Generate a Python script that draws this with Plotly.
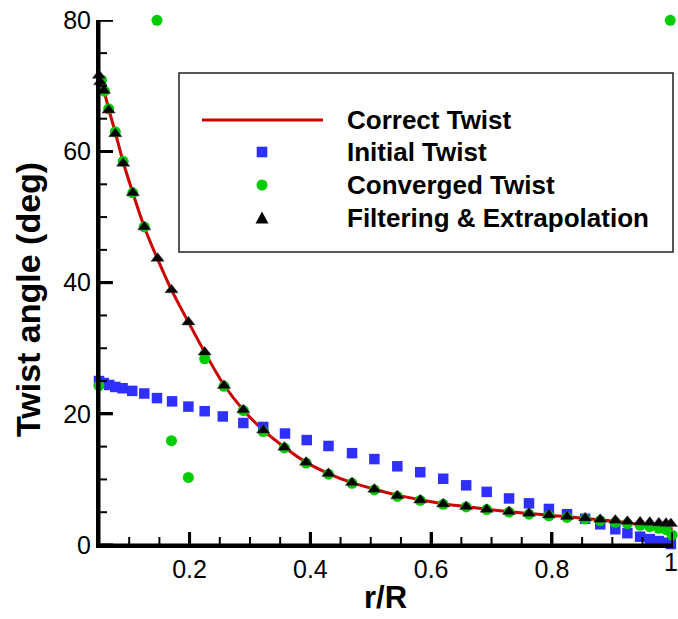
import plotly.graph_objects as go

# ---------------- data ----------------
stations = [0.050, 0.058, 0.066, 0.077, 0.090, 0.106, 0.125, 0.147, 0.170, 0.198,
            0.225, 0.257, 0.289, 0.322, 0.357, 0.393, 0.430, 0.469, 0.506, 0.544,
            0.582, 0.620, 0.658, 0.692, 0.729, 0.762, 0.795, 0.825, 0.855, 0.880,
            0.905, 0.925, 0.946, 0.962, 0.977, 0.989, 0.997]

correct_x = stations[:-1] + [1.0]
correct_y = [71.5, 69.3, 66.5, 62.9, 58.4, 53.7, 48.5, 43.6, 38.9, 34.0,
             29.4, 24.4, 20.6, 17.5, 14.9, 12.6, 10.9, 9.5, 8.5, 7.6,
             6.9, 6.3, 5.85, 5.45, 5.1, 4.8, 4.55, 4.3, 4.05, 3.85,
             3.6, 3.4, 3.15, 2.95, 2.75, 2.6, 2.45]

initial_x = [0.050, 0.058, 0.067, 0.077, 0.089, 0.105, 0.125, 0.146, 0.171, 0.198,
             0.225, 0.255, 0.289, 0.322, 0.358, 0.394, 0.430, 0.469, 0.506, 0.544,
             0.582, 0.620, 0.658, 0.692, 0.729, 0.762, 0.795, 0.825, 0.855, 0.880,
             0.905, 0.925, 0.946, 0.962, 0.977, 0.989, 0.997]
initial_y = [25.0, 24.7, 24.4, 24.1, 23.9, 23.5, 23.1, 22.4, 21.9, 21.1,
             20.4, 19.6, 18.6, 18.0, 17.0, 16.0, 15.1, 14.0, 13.1, 12.0,
             11.1, 10.1, 9.1, 8.1, 7.1, 6.35, 5.5, 4.7, 4.0, 3.15,
             2.4, 1.8, 1.27, 0.9, 0.6, 0.35, 0.15]

converged_x = [0.050, 0.054, 0.059, 0.066, 0.077, 0.090, 0.106, 0.125, 0.146, 0.170,
               0.198, 0.225, 0.257, 0.289, 0.322, 0.357, 0.393, 0.430, 0.469, 0.506,
               0.544, 0.582, 0.620, 0.658, 0.692, 0.729, 0.762, 0.795, 0.825, 0.855,
               0.880, 0.905, 0.925, 0.946, 0.962, 0.977, 0.989, 0.996, 0.999]
converged_y = [24.3, 70.9, 69.2, 66.5, 63.0, 58.5, 53.7, 48.5, 80.0, 15.9,
               10.3, 28.4, 24.2, 20.5, 17.3, 14.8, 12.5, 10.8, 9.4, 8.4,
               7.4, 6.8, 6.2, 5.8, 5.4, 5.0, 4.7, 4.45, 4.2, 3.95,
               3.7, 3.45, 3.25, 3.0, 2.8, 2.55, 2.35, 80.0, 1.5]

filtered_x = [0.050, 0.052] + stations[1:]
filtered_y = [71.6, 70.6, 69.3, 66.3, 62.7, 58.2, 53.7, 48.5, 43.7, 38.9, 34.0,
              29.4, 24.3, 20.6, 17.5, 14.9, 12.6, 10.9, 9.5, 8.5, 7.5,
              6.86, 6.25, 5.84, 5.43, 5.08, 4.83, 4.57, 4.32, 4.11, 3.9,
              3.76, 3.6, 3.5, 3.45, 3.35, 3.3, 3.25]

legend_labels = ["Correct Twist", "Initial Twist", "Converged Twist",
                 "Filtering & Extrapolation"]

x_title = "r/R"
y_title = "Twist angle (deg)"

x_major = [0.2, 0.4, 0.6, 0.8, 1.0]
x_major_labels = ["0.2", "0.4", "0.6", "0.8", "1"]
x_minor = [0.10, 0.15, 0.25, 0.30, 0.35, 0.45, 0.50, 0.55,
           0.65, 0.70, 0.75, 0.85, 0.90, 0.95]
y_major = [0, 20, 40, 60, 80]
y_minor = [5, 10, 15, 25, 30, 35, 45, 50, 55, 65, 70, 75]

X_RANGE = [0.05, 1.0005]
Y_RANGE = [0, 80.05]

# ---------------- styles ----------------
RED = "#CC0000"
BLUE = "#2F2FFF"
GREEN = "#00CC00"
BLACK = "#000000"
FONT = "Liberation Sans, Arial, Helvetica, sans-serif"

W, H = 678, 619
L, R, T, B = 99, 5, 20, 74  # plot area: x 99..673, y 20..545
PW, PH = W - L - R, H - T - B


def px(xp):
    """figure pixel x -> paper x"""
    return (xp - L) / PW


def py(yp):
    """figure pixel y (from top) -> paper y"""
    return (H - B - yp) / PH


fig = go.Figure()

fig.add_trace(go.Scatter(x=correct_x, y=correct_y, mode="lines",
                         line=dict(color=RED, width=3, shape="spline"),
                         showlegend=False, cliponaxis=False))
fig.add_trace(go.Scatter(x=initial_x, y=initial_y, mode="markers",
                         marker=dict(symbol="square", size=10.5, color=BLUE),
                         showlegend=False, cliponaxis=False))
fig.add_trace(go.Scatter(x=converged_x, y=converged_y, mode="markers",
                         marker=dict(symbol="circle", size=11, color=GREEN),
                         showlegend=False, cliponaxis=False))
fig.add_trace(go.Scatter(x=filtered_x, y=filtered_y, mode="markers",
                         marker=dict(symbol="triangle-up", size=11.5, color=BLACK,
                                     line=dict(color="#444", width=0.5)),
                         showlegend=False, cliponaxis=False))

# ---------------- axis lines and ticks (drawn on the axes' own scales) ----------------
AX = dict(color=BLACK, width=3)
fig.add_shape(type="line", xref="paper", yref="paper", x0=0, x1=0, y0=0, y1=1, line=AX)
fig.add_shape(type="line", xref="paper", yref="paper", x0=0, x1=1, y0=0, y1=0, line=AX)
for v in x_major:
    fig.add_shape(type="line", xref="x", yref="paper", x0=v, x1=v, y0=0, y1=13 / PH,
                  line=dict(color=BLACK, width=3))
for v in x_minor:
    fig.add_shape(type="line", xref="x", yref="paper", x0=v, x1=v, y0=0, y1=8 / PH,
                  line=dict(color=BLACK, width=2))
for v in y_major:
    fig.add_shape(type="line", xref="paper", yref="y", x0=0, x1=14 / PW, y0=v, y1=v,
                  line=dict(color=BLACK, width=3))
for v in y_minor:
    fig.add_shape(type="line", xref="paper", yref="y", x0=0, x1=8 / PW, y0=v, y1=v,
                  line=dict(color=BLACK, width=2))

# ---------------- custom legend (paper coordinates) ----------------
row_y = [120, 152, 185, 218]
sym_x = 262
text_x = 345

fig.add_shape(type="rect", xref="paper", yref="paper",
              x0=px(179), x1=px(673), y0=py(252), y1=py(73),
              line=dict(color="#222", width=1.5), fillcolor="rgba(0,0,0,0)")
fig.add_shape(type="line", xref="paper", yref="paper", x0=px(202), x1=px(323),
              y0=py(row_y[0]), y1=py(row_y[0]), line=dict(color=RED, width=3))
s = 5.3
fig.add_shape(type="rect", xref="paper", yref="paper",
              x0=px(sym_x - s), x1=px(sym_x + s), y0=py(row_y[1] + s), y1=py(row_y[1] - s),
              line=dict(width=0), fillcolor=BLUE)
c = 5.5
fig.add_shape(type="circle", xref="paper", yref="paper",
              x0=px(sym_x - c), x1=px(sym_x + c), y0=py(row_y[2] + c), y1=py(row_y[2] - c),
              line=dict(width=0), fillcolor=GREEN)
tw, th = 6.5, 5.5
fig.add_shape(type="path", xref="paper", yref="paper",
              path=(f"M {px(sym_x - tw)} {py(row_y[3] + th)} "
                    f"L {px(sym_x + tw)} {py(row_y[3] + th)} "
                    f"L {px(sym_x)} {py(row_y[3] - th - 1)} Z"),
              line=dict(width=0), fillcolor=BLACK)

for lab, yy in zip(legend_labels, row_y):
    fig.add_annotation(x=px(text_x), y=py(yy), xref="paper", yref="paper", text=lab,
                       showarrow=False, xanchor="left", yanchor="middle",
                       font=dict(family=FONT, size=26, color="black", weight="bold"))

fig.add_annotation(x=px(28), y=py(300), xref="paper", yref="paper", text=y_title,
                   textangle=-90, showarrow=False, xanchor="center", yanchor="middle",
                   font=dict(family=FONT, size=34, color="black", weight="bold"))
fig.add_annotation(x=px(385), y=py(597), xref="paper", yref="paper", text=x_title,
                   showarrow=False, xanchor="center", yanchor="middle",
                   font=dict(family=FONT, size=31, color="black", weight="bold"))

# last x tick label ("1") as an annotation, kept inside the page edge
fig.add_annotation(x=x_major[-1], y=py(562), xref="x", yref="paper",
                   text=x_major_labels[-1], showarrow=False,
                   xanchor="center", yanchor="middle", xshift=-2,
                   font=dict(family=FONT, size=25, color="black"))

axis_common = dict(showgrid=False, zeroline=False, showline=True, linecolor="black",
                   linewidth=3, ticks="inside", tickcolor="black", tickwidth=3,
                   tickmode="array", automargin=False,
                   tickfont=dict(family=FONT, size=25, color="black"))

fig.update_layout(
    template="none",
    width=W, height=H,
    margin=dict(l=L, r=R, t=T, b=B, autoexpand=False),
    plot_bgcolor="white", paper_bgcolor="white",
    showlegend=False,
    xaxis=dict(range=X_RANGE, tickvals=x_major[:-1], ticktext=x_major_labels[:-1],
               ticklen=13, **axis_common),
    yaxis=dict(range=Y_RANGE, tickvals=y_major, ticklen=14, **axis_common),
)

fig.write_html("out.html")
